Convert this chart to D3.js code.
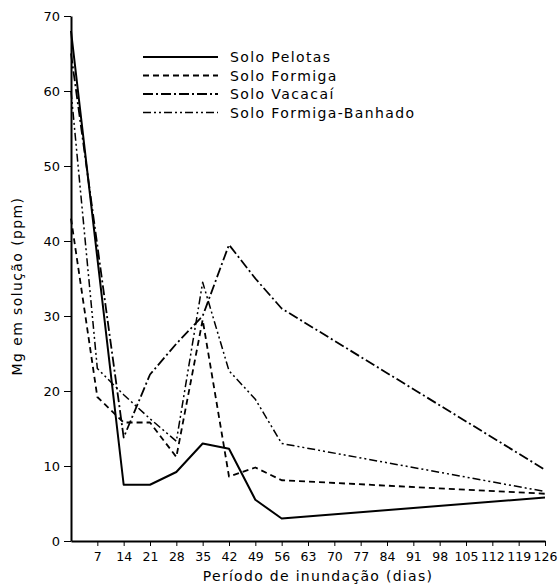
<!DOCTYPE html>
<html><head><meta charset="utf-8">
<script src="https://cdn.jsdelivr.net/npm/d3@7"></script>
<style>body{margin:0;background:#fff}svg{display:block}text{font-family:"DejaVu Sans",sans-serif;fill:#000}</style>
</head><body><svg id="c" width="560" height="586"></svg>
<script>
const xTicks = [7,14,21,28,35,42,49,56,63,70,77,84,91,98,105,112,119,126];
const yTicks = [0,10,20,30,40,50,60,70];
const seriesNames = ["Solo Pelotas","Solo Formiga","Solo Vacacaí","Solo Formiga-Banhado"];
const pelotasDays = [0,14,21,28,35,42,49,56,126];
const pelotasVals = [68,7.5,7.5,9.2,13,12.3,5.5,3,5.8];
const formigaDays = [0,7,14,21,28,35,42,49,56,126];
const formigaVals = [43,19.2,15.8,15.8,11.2,29.5,8.6,9.8,8.1,6.3];
const vacacaiDays = [0,14,21,28,35,42,49,56,126];
const vacacaiVals = [65,13.8,22.2,26.3,30,39.5,35,31,9.5];
const banhadoDays = [0,7,14,21,28,35,42,49,56,126];
const banhadoVals = [60,23,19.5,16.3,13.3,34.5,22.7,18.9,13,6.6];

const dashes = [null,"6,4","10,3,2,3","8,3,2,3,2,3"];
const widths = [2,1.8,1.8,1.5];
const series = [
  {days:pelotasDays, vals:pelotasVals},
  {days:formigaDays, vals:formigaVals},
  {days:vacacaiDays, vals:vacacaiVals},
  {days:banhadoDays, vals:banhadoVals}
];

const svg = d3.select("#c");
const x = d3.scaleLinear().domain([0,126]).range([71,545]);
const y = d3.scaleLinear().domain([0,70]).range([541,16]);

const xAxis = svg.append("g").attr("transform","translate(0,541)")
  .call(d3.axisBottom(x).tickValues(xTicks).tickSize(5).tickPadding(6).tickSizeOuter(0));
xAxis.select(".domain").attr("stroke-width",2);
xAxis.selectAll("text").attr("font-size",12.5);

const yAxis = svg.append("g").attr("transform","translate(71,0)")
  .call(d3.axisLeft(y).tickValues(yTicks).tickSize(7).tickPadding(4).tickSizeOuter(0));
yAxis.select(".domain").attr("stroke-width",2);
yAxis.selectAll("text").attr("font-size",13);

const line = d3.line().x(d=>x(d[0])).y(d=>y(d[1]));
series.forEach((s,i)=>{
  svg.append("path").datum(s.days.map((d,j)=>[d,s.vals[j]]))
    .attr("d",line).attr("fill","none").attr("stroke","#000")
    .attr("stroke-width",widths[i]).attr("stroke-dasharray",dashes[i])
    .attr("stroke-linejoin","round");
});

const leg = svg.append("g");
seriesNames.forEach((n,i)=>{
  const yy = 57 + i*18.5;
  leg.append("line").attr("x1",143).attr("x2",218).attr("y1",yy).attr("y2",yy)
    .attr("stroke","#000").attr("stroke-width",widths[i]).attr("stroke-dasharray",dashes[i]);
  leg.append("text").attr("x",230).attr("y",yy+5).attr("font-size",14)
    .attr("letter-spacing",1.4).text(n);
});

svg.append("text").attr("x",318).attr("y",581).attr("text-anchor","middle")
  .attr("font-size",14).attr("letter-spacing",1.3).text("Período de inundação (dias)");
svg.append("text").attr("transform","translate(22,286) rotate(-90)").attr("text-anchor","middle")
  .attr("font-size",14).attr("letter-spacing",1.4).text("Mg em solução (ppm)");
</script></body></html>
